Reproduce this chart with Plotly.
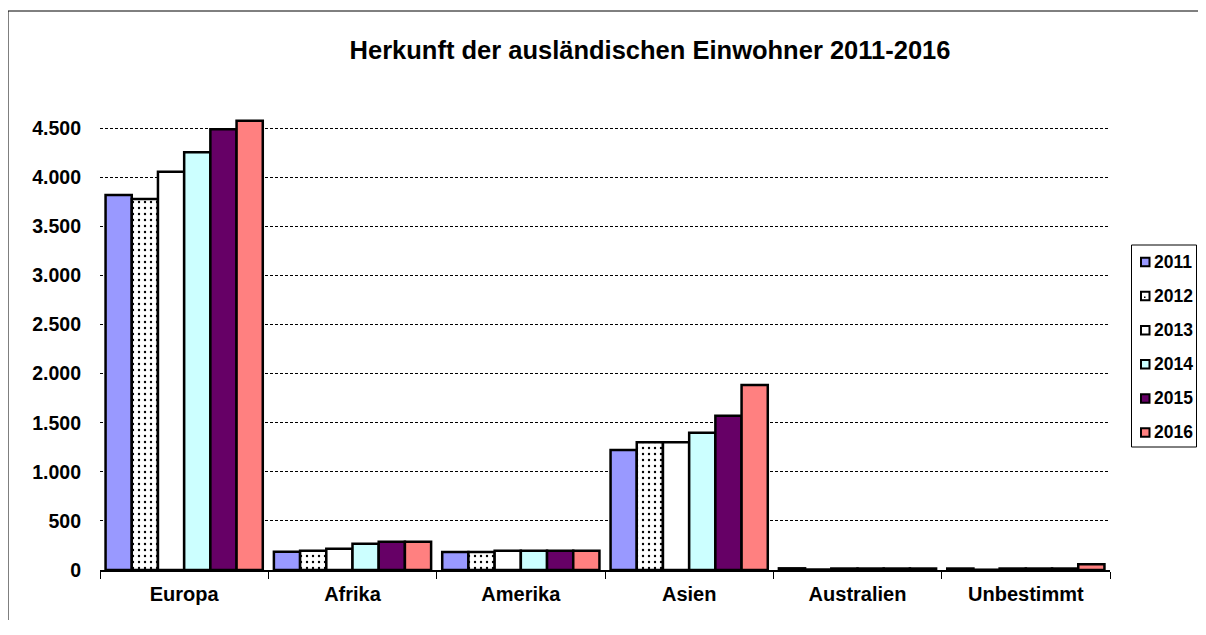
import plotly.graph_objects as go

categories = ["Europa", "Afrika", "Amerika", "Asien", "Australien", "Unbestimmt"]
years = ["2011", "2012", "2013", "2014", "2015", "2016"]
v2011 = [3820, 186, 183, 1222, 17, 15]
v2012 = [3778, 197, 183, 1300, 5, 3]
v2013 = [4055, 217, 197, 1300, 15, 15]
v2014 = [4255, 268, 197, 1398, 15, 15]
v2015 = [4488, 288, 197, 1571, 15, 15]
v2016 = [4575, 288, 197, 1884, 15, 58]
series = [v2011, v2012, v2013, v2014, v2015, v2016]
colors = ["#9999FF", "#FFFFFF", "#FFFFFF", "#CCFFFF", "#660066", "#FF8080"]
yticks = [0, 500, 1000, 1500, 2000, 2500, 3000, 3500, 4000, 4500]

FONT = "Liberation Sans, Arial, sans-serif"

# page body has an 8px margin; figure sized to fit the 1206x635 window
OFF = 8
W, H = 1206 - OFF, 612
# desired plot area in screen pixels
SX0, SX1, SY0, SY1 = 100, 1110, 79, 570
L = SX0 - OFF
R = W - (SX1 - OFF)
T = SY0 - OFF
B = H - (SY1 - OFF)
pw = SX1 - SX0
ph = SY1 - SY0


def px_x(p):
    return (p - SX0) / pw


def px_y(p):
    return (SY1 - p) / ph


fig = go.Figure()
for i, (yr, vals) in enumerate(zip(years, series)):
    marker = dict(color=colors[i], line=dict(color="black", width=2.5))
    if yr == "2012":
        marker["pattern"] = dict(shape=".", fgcolor="black", bgcolor="white",
                                 size=6, solidity=0.12, fillmode="replace")
    fig.add_trace(go.Bar(x=categories, y=vals, name=yr, marker=marker,
                         showlegend=False))

shapes = [dict(type="rect", xref="paper", yref="paper",
               x0=px_x(8), x1=px_x(1240), y0=px_y(660), y1=px_y(11),
               line=dict(color="black", width=1), layer="below")]
annotations = []

# legend (box, swatches, labels)
LX0, LX1, LY0, LY1 = 1131.5, 1196.5, 245, 447
shapes.append(dict(type="rect", xref="paper", yref="paper",
                   x0=px_x(LX0), x1=px_x(LX1), y0=px_y(LY1), y1=px_y(LY0),
                   line=dict(color="black", width=1), fillcolor="white"))
first_y, step = 262, 34.1
for i, yr in enumerate(years):
    cy = first_y + i * step
    shapes.append(dict(type="rect", xref="paper", yref="paper",
                       x0=px_x(1141), x1=px_x(1149.5),
                       y0=px_y(cy + 4.25), y1=px_y(cy - 4.25),
                       fillcolor=colors[i], line=dict(color="black", width=2)))
    if yr == "2012":
        shapes.append(dict(type="rect", xref="paper", yref="paper",
                           x0=px_x(1144), x1=px_x(1145.5),
                           y0=px_y(cy + 2), y1=px_y(cy + 0.5),
                           fillcolor="black", line=dict(width=0)))
    annotations.append(dict(text="<b>%s</b>" % yr, xref="paper", yref="paper",
                            x=px_x(1152), y=px_y(cy), xanchor="left",
                            yanchor="middle", showarrow=False,
                            font=dict(size=17.5, family=FONT, color="black")))

fig.update_layout(
    width=W, height=H,
    margin=dict(l=L, r=R, t=T, b=B, autoexpand=False),
    paper_bgcolor="white", plot_bgcolor="white",
    separators=",.",
    barmode="group", bargap=0.066, bargroupgap=0,
    font=dict(family=FONT, color="black"),
    title=dict(text="<b>Herkunft der ausländischen Einwohner 2011-2016</b>",
               font=dict(size=25.5, family=FONT, color="black"),
               x=px_x(650), xref="paper", xanchor="center",
               y=1 - (50.5 - OFF) / H, yanchor="middle"),
    showlegend=False,
    shapes=shapes,
    annotations=annotations,
)
fig.update_xaxes(
    showline=True, linecolor="black", linewidth=2,
    ticks="outside", tickson="boundaries", ticklen=7, tickcolor="black",
    tickwidth=1, ticklabelstandoff=5,
    tickfont=dict(size=20, family=FONT, color="black", weight="bold"),
    showgrid=False,
)
fig.update_yaxes(
    range=[0, 5000], tickvals=yticks, tickformat=",d",
    showgrid=True, gridcolor="black", gridwidth=1, griddash="3px,2px",
    showline=False, zeroline=False, ticks="", ticklabelstandoff=18,
    tickfont=dict(size=19.5, family=FONT, color="black", weight="bold"),
)
fig.write_html("out.html")
